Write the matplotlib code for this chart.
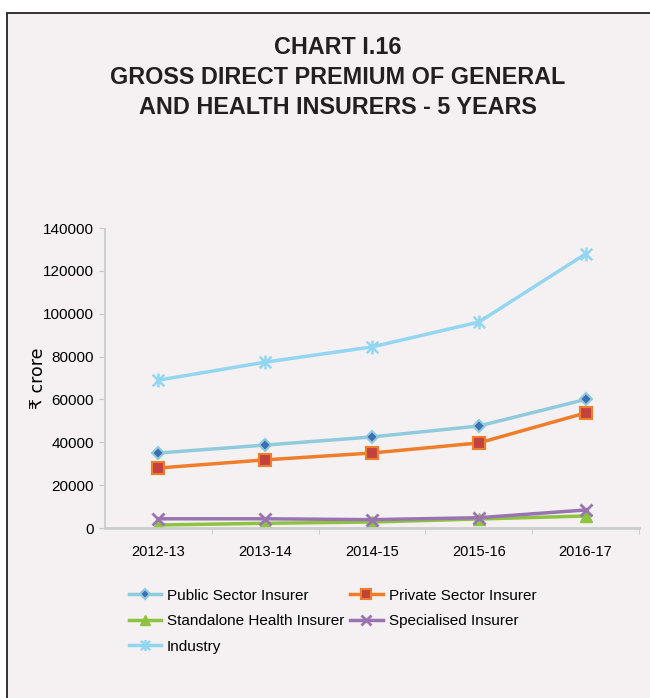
import matplotlib.pyplot as plt
from matplotlib.patches import Rectangle
from matplotlib.path import Path
from matplotlib.ticker import FixedLocator, NullFormatter

years = ["2012-13", "2013-14", "2014-15", "2015-16", "2016-17"]
public = [35000, 38700, 42500, 47600, 60000]
private = [28000, 31800, 35000, 39700, 53700]
standalone = [1400, 2200, 2800, 4200, 5600]
specialised = [4300, 4300, 3900, 4800, 8400]
industry = [69000, 77400, 84500, 96100, 127900]

plt.rcParams["font.family"] = ["Liberation Sans", "DejaVu Sans"]

# excel style asterisk: an x plus a vertical stroke
star = Path([(-1, -1), (1, 1), (-1, 1), (1, -1), (0, -1.2), (0, 1.2)],
            [Path.MOVETO, Path.LINETO, Path.MOVETO, Path.LINETO,
             Path.MOVETO, Path.LINETO])

bg = "#f5f1f2"
fig = plt.figure(figsize=(6.5, 6.98), dpi=100)
fig.patch.set_facecolor("white")
fig.patches.append(Rectangle((7 / 650, -0.1), 1.2, 1 - 13 / 698 + 0.1,
                             transform=fig.transFigure, facecolor=bg,
                             edgecolor="#222222", linewidth=1.3, zorder=-10))

for y, txt in [(47, "CHART I.16"), (78, "GROSS DIRECT PREMIUM OF GENERAL"),
               (108, "AND HEALTH INSURERS - 5 YEARS")]:
    fig.text(338 / 650, 1 - y / 698, txt, ha="center", va="center",
             fontsize=16.8, fontweight="bold", color="#231f20")

ax = fig.add_axes([105 / 650, 1 - 528 / 698, 534 / 650, 300 / 698])
ax.set_facecolor(bg)
x = range(len(years))

l1, = ax.plot(x, public, color="#8fcbdc", lw=2.5, marker="D", ms=6,
              mfc="#3e6fb4", mec="#8fcbdc", mew=1.5, label="Public Sector Insurer")
l2, = ax.plot(x, private, color="#f07d2a", lw=2.5, marker="s", ms=9,
              mfc="#c4423e", mec="#f07d2a", mew=1.5, label="Private Sector Insurer")
l3, = ax.plot(x, standalone, color="#8cc43f", lw=2.5, marker="^", ms=9,
              mfc="#8cc43f", mec="#8cc43f", label="Standalone Health Insurer")
l4, = ax.plot(x, specialised, color="#9a74b2", lw=2.5, marker="x", ms=9,
              mew=2, label="Specialised Insurer")
l5, = ax.plot(x, industry, color="#93d6f2", lw=2.5, marker=star, ms=10,
              mew=1.8, label="Industry")

ax.set_xlim(-0.5, 4.5)
ax.set_ylim(0, 140000)
ax.set_yticks(range(0, 140001, 20000))
ax.set_xticks(list(x))
ax.set_xticklabels(years)
ax.xaxis.set_minor_locator(FixedLocator([0.5, 1.5, 2.5, 3.5, 4.5]))
ax.xaxis.set_minor_formatter(NullFormatter())
ax.tick_params(axis="x", which="major", length=0, pad=12, labelsize=10.5)
ax.tick_params(axis="x", which="minor", length=4, color="#c8c8c8")
ax.tick_params(axis="y", length=4, color="#c8c8c8", labelsize=11, pad=4)

for s in ["top", "right"]:
    ax.spines[s].set_visible(False)
ax.spines["left"].set_color("#d0d0d0")
ax.spines["left"].set_linestyle((0, (3, 1)))
ax.spines["left"].set_linewidth(1.5)
ax.spines["bottom"].set_color("#cccccc")
ax.spines["bottom"].set_linewidth(2)

ax.set_ylabel("₹ crore", fontsize=12.5, labelpad=-3, family=["DejaVu Sans"])

handles = [l1, l3, l5, l2, l4]
fig.legend(handles, [h.get_label() for h in handles], loc="upper left",
           bbox_to_anchor=(115 / 650, 1 - 575 / 698),
           ncol=2, frameon=False, fontsize=11, handlelength=2.1,
           columnspacing=0.4, handletextpad=0.4, labelspacing=0.75,
           markerscale=0.8)

fig.savefig("out.png", dpi=100, facecolor="white")
